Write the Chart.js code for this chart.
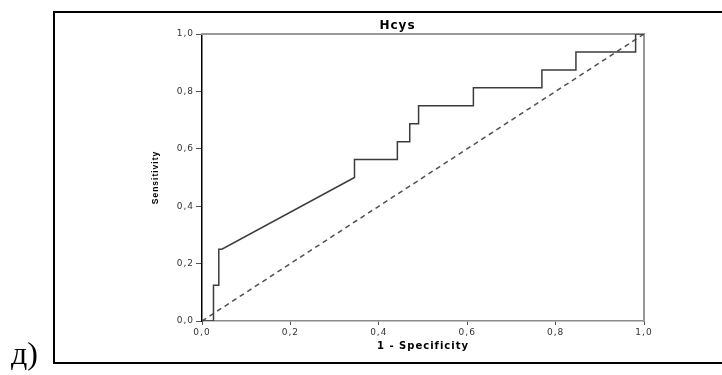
<!DOCTYPE html>
<html>
<head>
<meta charset="utf-8">
<script src="https://cdn.jsdelivr.net/npm/chart.js@4/dist/chart.umd.min.js"></script>
<style>
  html, body { margin: 0; padding: 0; background: #fff; overflow: hidden; }
  #wrap { position: relative; width: 722px; height: 375px; }
  #chart { position: absolute; left: 0; top: 0; }
  #frame { position: absolute; left: 53px; top: 11px; width: 720px; height: 353px;
           box-sizing: border-box; border: 2px solid #000; pointer-events: none; }
  #panel { position: absolute; left: 11px; top: 337px;
           font: 32px/32px "Liberation Serif", "Times New Roman", serif; color: #000; }
</style>
</head>
<body>
<div id="wrap">
  <canvas id="chart" width="722" height="375"></canvas>
  <div id="frame"></div>
  <div id="panel">д)</div>
</div>
<script>
// ROC curve for Hcys: 1 - specificity vs sensitivity
const falsePositiveRate = [0, 0.026, 0.026, 0.038, 0.038, 0.045, 0.345, 0.345, 0.442, 0.442,
                           0.470, 0.470, 0.490, 0.490, 0.614, 0.614, 0.769, 0.769, 0.846, 0.846,
                           0.981, 0.981, 1.0];
const sensitivity = [0, 0, 0.125, 0.125, 0.25, 0.25, 0.5, 0.5625, 0.5625, 0.625,
                     0.625, 0.6875, 0.6875, 0.75, 0.75, 0.8125, 0.8125, 0.875, 0.875, 0.9375,
                     0.9375, 1.0, 1.0];
// chance (no-discrimination) reference line
const chanceX = [0, 1];
const chanceY = [0, 1];
// axis ticks
const tickValues = [0, 0.2, 0.4, 0.6, 0.8, 1.0];
const tickLabels = ['0,0', '0,2', '0,4', '0,6', '0,8', '1,0'];

const toPoints = (xs, ys) => xs.map((x, i) => ({ x: x, y: ys[i] }));

const tickFont = { family: 'DejaVu Sans', size: 9 };
const fixedTicks = scale => { scale.ticks = tickValues.map(v => ({ value: v })); };

// SPSS-style loose lettering
const letterSpacing = {
  id: 'letterSpacing',
  beforeDraw(chart) { chart.ctx.letterSpacing = '1px'; }
};

new Chart(document.getElementById('chart'), {
  type: 'scatter',
  data: {
    datasets: [
      {
        label: 'Hcys',
        data: toPoints(falsePositiveRate, sensitivity),
        showLine: true,
        borderColor: '#3c3c3c',
        borderWidth: 1.5,
        pointRadius: 0,
        tension: 0,
        xAxisID: 'x',
        yAxisID: 'y'
      },
      {
        label: 'Reference',
        data: toPoints(chanceX, chanceY),
        showLine: true,
        borderColor: '#505050',
        borderWidth: 1.5,
        borderDash: [5, 4],
        pointRadius: 0,
        xAxisID: 'x',
        yAxisID: 'y'
      }
    ]
  },
  options: {
    responsive: false,
    animation: false,
    devicePixelRatio: 1,
    layout: { padding: { left: 151, right: 78, top: 0, bottom: 23 } },
    plugins: {
      legend: { display: false },
      tooltip: { enabled: false },
      title: {
        display: true,
        text: 'Hcys',
        color: '#000',
        font: { family: 'DejaVu Sans', size: 12, weight: 'bold' },
        padding: { top: 19, bottom: 0.6 }
      }
    },
    scales: {
      x: {
        type: 'linear',
        position: 'bottom',
        min: 0, max: 1,
        afterBuildTicks: fixedTicks,
        afterFit: s => { s.height = 31; },
        ticks: {
          callback: (v, i) => tickLabels[i],
          font: tickFont, color: '#333', padding: 2,
          maxRotation: 0, autoSkip: false
        },
        grid: { drawOnChartArea: false, drawTicks: true, tickLength: 4, tickColor: '#555', tickWidth: 1 },
        border: { display: true, color: '#8c8c8c', width: 1.5 },
        title: {
          display: true,
          text: '1 - Specificity',
          color: '#000',
          font: { family: 'DejaVu Sans', size: 10, weight: 'bold' },
          padding: { top: 0, bottom: 0 }
        }
      },
      y: {
        type: 'linear',
        position: 'left',
        min: 0, max: 1,
        afterBuildTicks: fixedTicks,
        afterFit: s => { s.width = 51; },
        ticks: {
          callback: (v, i) => tickLabels[i],
          font: tickFont, color: '#333', padding: 2, autoSkip: false
        },
        grid: { drawOnChartArea: false, drawTicks: true, tickLength: 6, tickColor: '#555', tickWidth: 1 },
        border: { display: true, color: '#000', width: 1.5 },
        title: {
          display: true,
          text: 'Sensitivity',
          color: '#000',
          font: { family: 'Liberation Sans', size: 8.5, weight: 'bold' },
          padding: { top: 0, bottom: 0 }
        }
      },
      xTop: {
        type: 'linear',
        position: 'top',
        min: 0, max: 1,
        afterFit: s => { s.height = 0; },
        ticks: { display: false },
        grid: { drawOnChartArea: false, drawTicks: false },
        border: { display: true, color: '#999', width: 2 }
      },
      yRight: {
        type: 'linear',
        position: 'right',
        min: 0, max: 1,
        afterFit: s => { s.width = 0; },
        ticks: { display: false },
        grid: { drawOnChartArea: false, drawTicks: false },
        border: { display: true, color: '#999', width: 2 }
      }
    }
  },
  plugins: [letterSpacing]
});
</script>
</body>
</html>
